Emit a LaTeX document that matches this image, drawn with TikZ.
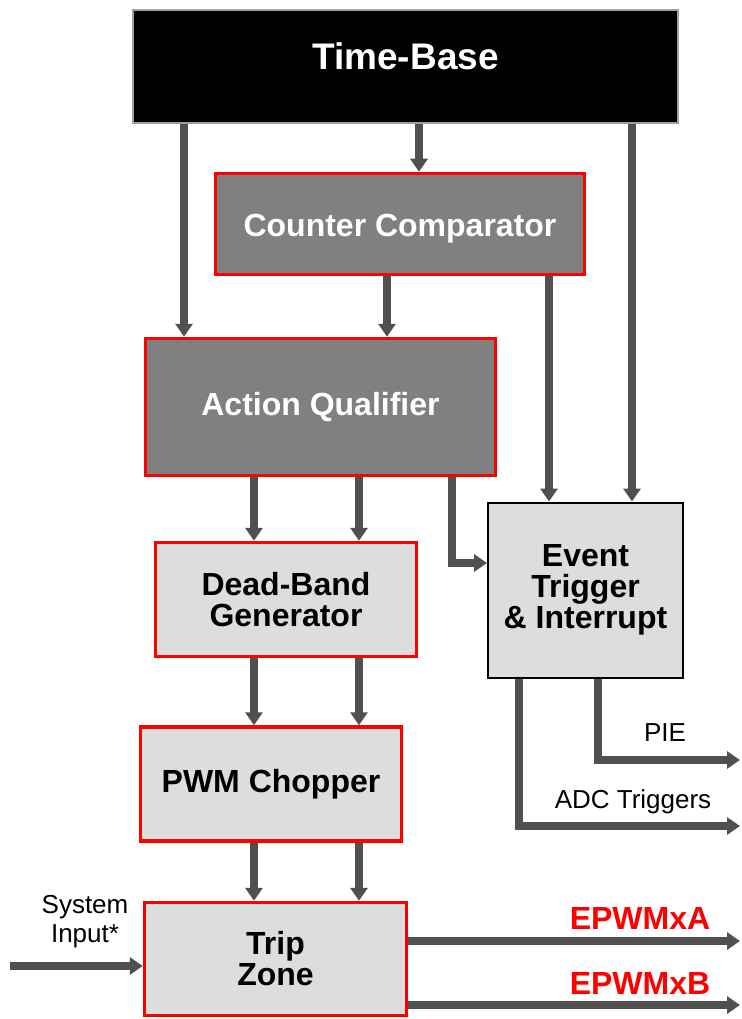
\documentclass[tikz,border=0pt]{standalone}
\usepackage{fontspec}
\setmainfont{Liberation Sans}
\usetikzlibrary{arrows.meta}
\definecolor{arrgray}{HTML}{505050}
\definecolor{midgray}{HTML}{808080}
\definecolor{lightgray}{HTML}{DDDDDD}
\definecolor{tbborder}{HTML}{A0A0A0}
\tikzset{
  blk/.style={rectangle, inner sep=0pt, align=center, font=\fontsize{32}{31}\selectfont\bfseries},
  redblk/.style={blk, draw=red, line width=3.5pt},
  darkblk/.style={redblk, fill=midgray, text=white},
  lightblk/.style={redblk, fill=lightgray, text=black},
  arr/.style={draw=arrgray, line width=7.5pt, -{Triangle[width=17pt,length=13pt]}},
  lbl/.style={inner sep=0pt, align=center, font=\fontsize{26}{29}\selectfont},
  outlbl/.style={inner sep=0pt, text=red, font=\fontsize{32}{32}\selectfont\bfseries},
}
\begin{document}
\begin{tikzpicture}[x=1pt, y=-1pt]
\useasboundingbox (0,0) rectangle (741,1019);

% blocks
\node[blk, fill=black, draw=tbborder, line width=2pt, text=white, minimum width=545pt, minimum height=113pt, text height=27pt, text depth=20pt, font=\fontsize{37}{37}\selectfont\bfseries] (TB) at (405.5,66.5) {Time-Base};
\node[darkblk, minimum width=369pt, minimum height=101pt, text height=30pt, text depth=6pt] (CC) at (400,224) {Counter Comparator};
\node[darkblk, minimum width=350pt, minimum height=137pt] (AQ) at (320.5,407) {Action Qualifier};
\node[blk, draw=black, line width=2pt, fill=lightgray, minimum width=195pt, minimum height=175pt] (ET) at (585.5,590) {Event\\Trigger\\\& Interrupt};
\node[lightblk, minimum width=261pt, minimum height=114pt] (DB) at (286,599.5) {Dead-Band\\Generator};
\node[lightblk, minimum width=261pt, minimum height=114pt] (PWM) at (271,784) {PWM Chopper};
\node[lightblk, minimum width=262pt, minimum height=113pt] (TZ) at (275.5,959) {Trip\\Zone};

% x positions
\coordinate (xa) at (184,0);
\coordinate (xb) at (419,0);
\coordinate (xc) at (632,0);
\coordinate (xd) at (387,0);
\coordinate (xe) at (549,0);
\coordinate (xl) at (254,0);
\coordinate (xr) at (359,0);
\coordinate (xq) at (452,563);
\coordinate (xadc) at (519,826);
\coordinate (xpie) at (598,760);
\coordinate (pieend) at (740,760);
\coordinate (adcend) at (740,826);
\coordinate (sysin) at (10,966);
\coordinate (outa) at (740,941);
\coordinate (outb) at (740,1005);
\coordinate (ya) at (0,941);
\coordinate (yb) at (0,1005);

% Time-Base outputs
\draw[arr] (xa |- TB.south) -- (xa |- AQ.north);
\draw[arr] (xb |- TB.south) -- (xb |- CC.north);
\draw[arr] (xc |- TB.south) -- (xc |- ET.north);
% Counter comparator outputs
\draw[arr] (xd |- CC.south) -- (xd |- AQ.north);
\draw[arr] (xe |- CC.south) -- (xe |- ET.north);
% Action qualifier outputs
\draw[arr] (xl |- AQ.south) -- (xl |- DB.north);
\draw[arr] (xr |- AQ.south) -- (xr |- DB.north);
\draw[arr] (xq |- AQ.south) -- (xq) -- (xq -| ET.west);
% Dead-band to PWM chopper
\draw[arr] (xl |- DB.south) -- (xl |- PWM.north);
\draw[arr] (xr |- DB.south) -- (xr |- PWM.north);
% PWM chopper to trip zone
\draw[arr] (xl |- PWM.south) -- (xl |- TZ.north);
\draw[arr] (xr |- PWM.south) -- (xr |- TZ.north);
% Event trigger outputs
\draw[arr] (xpie |- ET.south) -- (xpie) -- (pieend);
\draw[arr] (xadc |- ET.south) -- (xadc) -- (adcend);
% Trip zone
\draw[arr] (sysin) -- (sysin -| TZ.west);
\draw[arr] (ya -| TZ.east) -- (outa);
\draw[arr] (yb -| TZ.east) -- (outb);

% labels
\node[lbl] (pie) at (665,733) {PIE};
\node[lbl] (adc) at (633,802) {ADC Triggers};
\node[lbl] (sys) at (85,922) {System\\Input*};
\node[outlbl] (epa) at (640,918) {EPWMxA};
\node[outlbl] (epb) at (640,983) {EPWMxB};
\end{tikzpicture}
\end{document}
